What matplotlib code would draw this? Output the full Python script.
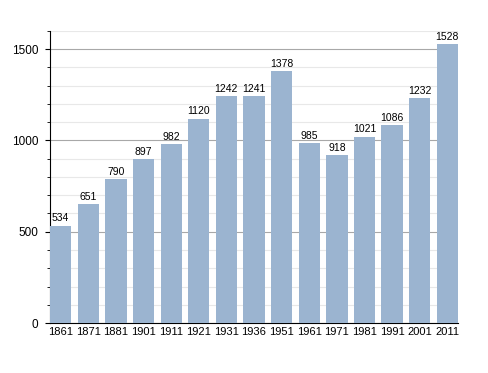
import matplotlib.pyplot as plt
from matplotlib.ticker import MultipleLocator

years = ["1861", "1871", "1881", "1901", "1911", "1921", "1931", "1936",
         "1951", "1961", "1971", "1981", "1991", "2001", "2011"]
population = [534, 651, 790, 897, 982, 1120, 1242, 1241,
              1378, 985, 918, 1021, 1086, 1232, 1528]

plt.rcParams["font.family"] = ["Liberation Sans", "DejaVu Sans"]

fig = plt.figure(figsize=(4.88, 3.73), dpi=100)
ax = fig.add_axes([0.1025, 0.134, 0.836, 0.783])

x = range(len(years))
bar_width = 0.77
ax.bar(x, population, width=bar_width, color="#9bb4d0", zorder=3)

for xi, value in zip(x, population):
    ax.text(xi, value + 12, str(value), ha="center", va="bottom",
            fontsize=7.5, zorder=4)

ax.set_xlim(-bar_width / 2, len(years) - 1 + bar_width / 2)
ax.set_ylim(0, 1600)
ax.set_xticks(list(x))
ax.set_xticklabels(years)
ax.yaxis.set_major_locator(MultipleLocator(500))
ax.yaxis.set_minor_locator(MultipleLocator(100))

ax.grid(axis="y", which="major", color="#a8a8a8", linewidth=0.8, zorder=1)
ax.grid(axis="y", which="minor", color="#e8e8e8", linewidth=0.8, zorder=1)

ax.spines["top"].set_visible(False)
ax.spines["right"].set_visible(False)
ax.tick_params(axis="x", length=0, labelsize=8, pad=3)
ax.tick_params(axis="y", which="major", length=3.6, labelsize=8.5, pad=5)
ax.tick_params(axis="y", which="minor", length=2.2)

fig.savefig("out.png", dpi=100)
